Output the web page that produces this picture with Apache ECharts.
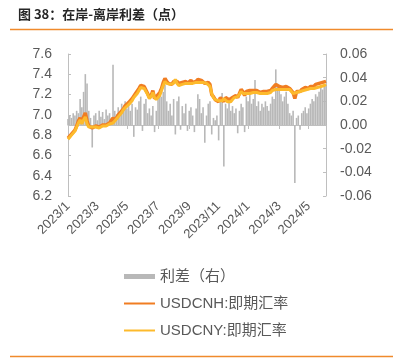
<!DOCTYPE html>
<html><head><meta charset="utf-8">
<script src="https://cdn.jsdelivr.net/npm/echarts@6/dist/echarts.min.js"></script>
<style>html,body{margin:0;padding:0;background:#fff;}#c{width:395px;height:363px;}</style>
</head><body><div id="c"></div>
<script>
const dates = [
'2023/1/2','2023/1/5','2023/1/9','2023/1/12','2023/1/16','2023/1/19','2023/1/23','2023/1/26','2023/1/30','2023/2/2',
'2023/2/6','2023/2/9','2023/2/13','2023/2/16','2023/2/20','2023/2/23','2023/2/27','2023/3/2','2023/3/6','2023/3/9',
'2023/3/13','2023/3/16','2023/3/20','2023/3/23','2023/3/27','2023/3/30','2023/4/3','2023/4/6','2023/4/10','2023/4/13',
'2023/4/17','2023/4/20','2023/4/24','2023/4/27','2023/5/1','2023/5/4','2023/5/8','2023/5/11','2023/5/15','2023/5/18',
'2023/5/22','2023/5/25','2023/5/29','2023/6/1','2023/6/5','2023/6/8','2023/6/12','2023/6/15','2023/6/19','2023/6/22',
'2023/6/26','2023/6/29','2023/7/3','2023/7/6','2023/7/10','2023/7/13','2023/7/17','2023/7/20','2023/7/24','2023/7/27',
'2023/7/31','2023/8/3','2023/8/7','2023/8/10','2023/8/14','2023/8/17','2023/8/21','2023/8/24','2023/8/28','2023/8/31',
'2023/9/4','2023/9/7','2023/9/11','2023/9/14','2023/9/18','2023/9/21','2023/9/25','2023/9/28','2023/10/2','2023/10/5',
'2023/10/9','2023/10/12','2023/10/16','2023/10/19','2023/10/23','2023/10/26','2023/10/30','2023/11/2','2023/11/6','2023/11/9',
'2023/11/13','2023/11/16','2023/11/20','2023/11/23','2023/11/27','2023/11/30','2023/12/4','2023/12/7','2023/12/11','2023/12/14',
'2023/12/18','2023/12/21','2023/12/25','2023/12/28','2024/1/1','2024/1/4','2024/1/8','2024/1/11','2024/1/15','2024/1/18',
'2024/1/22','2024/1/25','2024/1/29','2024/2/1','2024/2/5','2024/2/8','2024/2/12','2024/2/15','2024/2/19','2024/2/22',
'2024/2/26','2024/2/29','2024/3/4','2024/3/7','2024/3/11','2024/3/14','2024/3/18','2024/3/21','2024/3/25','2024/3/28',
'2024/4/1','2024/4/4','2024/4/8','2024/4/11','2024/4/15','2024/4/18','2024/4/22','2024/4/25','2024/4/29','2024/5/2',
'2024/5/6','2024/5/9','2024/5/13','2024/5/16','2024/5/20','2024/5/23','2024/5/27','2024/5/30','2024/6/3','2024/6/6'
];
const tickLabels = ['2023/1','2023/3','2023/5','2023/7','2023/9','2023/11','2024/1','2024/3','2024/5'];
const spread = [
0.005,0.008,0.006,0.010,0.008,0.012,0.010,0.022,0.015,0.028,
0.043,0.035,0.012,0.006,-0.019,0.008,0.010,0.004,0.012,0.007,
0.011,0.005,0.013,0.008,0.010,0.006,0.051,0.012,0.009,0.015,
0.010,0.018,0.012,0.020,0.014,0.016,0.012,0.018,-0.010,0.015,
0.013,0.020,0.024,-0.005,0.018,0.022,0.010,0.014,0.008,0.016,
-0.006,0.012,0.026,0.030,0.024,0.028,0.034,0.020,0.012,0.018,
0.008,0.022,-0.008,0.020,0.024,-0.004,0.016,0.010,0.018,-0.005,
0.012,0.015,0.008,-0.006,0.014,0.026,0.022,0.010,0.015,-0.015,
0.008,0.018,0.020,-0.008,0.006,0.004,0.008,-0.013,0.024,0.027,
-0.035,0.018,0.014,0.020,0.012,0.016,0.010,0.014,-0.007,0.012,
0.018,0.015,-0.006,0.024,0.020,0.026,0.018,0.022,0.038,0.016,
0.020,0.012,0.018,0.015,0.020,0.016,0.012,0.018,0.024,0.022,
0.047,0.035,0.032,0.026,0.020,0.024,0.028,0.018,0.010,0.008,
0.012,-0.049,0.006,0.008,-0.004,0.010,0.012,0.015,0.010,0.014,
0.018,0.022,0.020,0.026,0.024,0.028,0.032,0.030,0.033,0.034
];
const usdcnh = [
6.77,6.79,6.81,6.83,6.85,6.89,6.94,6.97,6.93,6.98,
7.02,6.94,6.89,6.88,6.87,6.88,6.89,6.88,6.88,6.89,
6.90,6.89,6.90,6.91,6.92,6.93,6.97,6.95,6.97,7.00,
7.01,7.04,7.06,7.09,7.09,7.12,7.13,7.16,7.16,7.21,
7.22,7.26,7.29,7.28,7.28,7.27,7.21,7.17,7.19,7.24,
7.16,7.16,7.20,7.22,7.26,7.32,7.36,7.33,7.31,7.32,
7.30,7.33,7.34,7.33,7.31,7.30,7.32,7.32,7.33,7.31,
7.32,7.34,7.32,7.31,7.33,7.35,7.34,7.34,7.34,7.31,
7.32,7.32,7.30,7.20,7.18,7.15,7.15,7.13,7.17,7.17,
7.13,7.17,7.16,7.15,7.14,7.17,7.18,7.19,7.17,7.21,
7.25,7.23,7.19,7.23,7.24,7.24,7.24,7.24,7.25,7.24,
7.24,7.22,7.23,7.23,7.24,7.23,7.23,7.24,7.26,7.27,
7.30,7.30,7.28,7.28,7.27,7.28,7.28,7.27,7.26,7.25,
7.22,7.16,7.23,7.24,7.23,7.25,7.25,7.27,7.26,7.26,
7.28,7.28,7.28,7.30,7.29,7.31,7.31,7.32,7.32,7.33
];
const usdcny = [
6.76,6.78,6.80,6.82,6.84,6.88,6.92,6.95,6.91,6.95,
6.98,6.91,6.88,6.87,6.88,6.87,6.88,6.88,6.87,6.88,
6.89,6.88,6.89,6.90,6.91,6.92,6.92,6.94,6.96,6.98,
7.00,7.02,7.05,7.07,7.08,7.10,7.12,7.14,7.17,7.19,
7.21,7.24,7.27,7.28,7.26,7.25,7.20,7.16,7.18,7.22,
7.17,7.15,7.17,7.19,7.24,7.29,7.33,7.31,7.30,7.30,
7.29,7.31,7.35,7.31,7.29,7.30,7.30,7.31,7.31,7.31,
7.31,7.32,7.31,7.32,7.32,7.32,7.32,7.33,7.32,7.32,
7.31,7.30,7.28,7.21,7.17,7.15,7.14,7.14,7.15,7.14,
7.16,7.15,7.13,7.14,7.13,7.15,7.17,7.18,7.18,7.20,
7.23,7.21,7.20,7.21,7.22,7.21,7.22,7.22,7.21,7.22,
7.22,7.21,7.21,7.21,7.22,7.21,7.22,7.22,7.24,7.25,
7.25,7.26,7.25,7.25,7.25,7.26,7.25,7.25,7.25,7.24,
7.21,7.21,7.22,7.23,7.23,7.24,7.24,7.25,7.25,7.25,
7.26,7.26,7.26,7.27,7.27,7.28,7.28,7.29,7.29,7.30
];

const ym = d => d.split('/').slice(0,2).join('/');
const tickIdx = new Set();
tickLabels.forEach(t => { const i = dates.findIndex(d => ym(d) === t); if (i >= 0) tickIdx.add(i); });

const FONT = '"Liberation Sans", "Noto Sans CJK SC", Arial, sans-serif';
const txt = '#595959';
const axisCol = '#BFBFBF';
const cnhColor = '#F07D22';
const cnyColor = '#FDBA2C';

const chart = echarts.init(document.getElementById('c'), null, {renderer:'canvas'});
chart.setOption({
  animation: false,
  backgroundColor: '#fff',
  textStyle: {fontFamily: FONT},
  graphic: [
    {type:'text', left: 18, top: 8, style:{text:'图 38：在岸-离岸利差（点）', font:'bold 13px "Noto Sans CJK SC", sans-serif', fill:'#262626'}},
    {type:'line', shape:{x1:10, y1:29.5, x2:393, y2:29.5}, style:{stroke:'#F08A2C', lineWidth:1.5}},
    {type:'line', shape:{x1:10, y1:356.5, x2:393, y2:356.5}, style:{stroke:'#F08A2C', lineWidth:1.5}}
  ],
  grid: {left: 68, right: 69, top: 54, bottom: 167, containLabel: false},
  legend: {
    orient: 'vertical', left: 118, top: 264,
    itemWidth: 31, itemHeight: 5, itemGap: 12,
    textStyle: {fontSize: 15, color: txt, fontFamily: FONT},
    data: [
      {name:'利差（右）', icon:'rect'},
      {name:'USDCNH:即期汇率', itemStyle:{opacity:0}},
      {name:'USDCNY:即期汇率', itemStyle:{opacity:0}}
    ]
  },
  xAxis: {
    type: 'category', data: dates, boundaryGap: false,
    axisLine: {lineStyle: {color: axisCol}},
    axisTick: {show: true, length: 4, inside: false, interval: (i) => tickIdx.has(i), lineStyle:{color: axisCol}},
    axisLabel: {
      interval: (i) => tickIdx.has(i), rotate: 45, margin: 8,
      formatter: v => ym(v), fontSize: 13, color: txt, fontFamily: FONT
    },
    splitLine: {show: false}
  },
  yAxis: [
    {
      type: 'value', min: 6.2, max: 7.6, interval: 0.2,
      axisLine: {show: true, lineStyle: {color: axisCol}},
      axisTick: {show: true, inside: true, length: 3, lineStyle:{color: axisCol}},
      axisLabel: {formatter: v => v.toFixed(1), fontSize: 14, color: txt, margin: 16, fontFamily: FONT},
      splitLine: {show: false}
    },
    {
      type: 'value', min: -0.06, max: 0.06, interval: 0.02,
      axisLine: {show: true, lineStyle: {color: axisCol}},
      axisTick: {show: true, inside: true, length: 3, lineStyle:{color: axisCol}},
      axisLabel: {formatter: v => (Math.abs(v) < 1e-9 ? 0 : v).toFixed(2), fontSize: 14, color: txt, margin: 14, fontFamily: FONT},
      splitLine: {show: false}
    }
  ],
  series: [
    {name:'利差（右）', type:'bar', yAxisIndex:1, data: spread, barWidth: 1.6,
     itemStyle:{color:'#B8B8B8'}},
    {name:'USDCNH:即期汇率', type:'line', yAxisIndex:0, data: usdcnh, symbol:'none',
     lineStyle:{color:cnhColor, width:3.5}, itemStyle:{color:cnhColor}},
    {name:'USDCNY:即期汇率', type:'line', yAxisIndex:0, data: usdcny, symbol:'none',
     lineStyle:{color:cnyColor, width:3}, itemStyle:{color:cnyColor}}
  ]
});
</script>
</body></html>
